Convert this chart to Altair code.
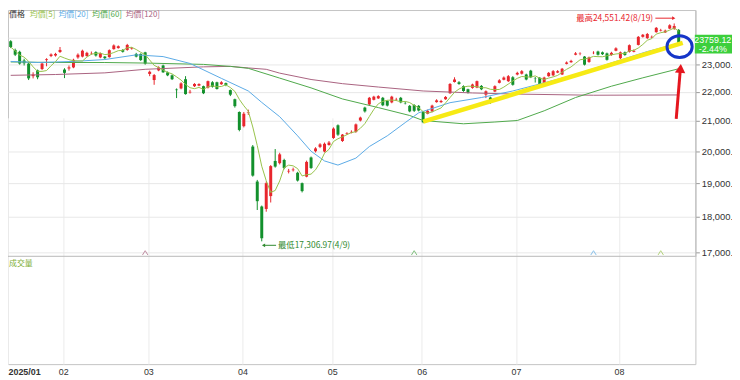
import altair as alt
import pandas as pd

# ---------------- data ----------------
month_labels = ["2025/01", "02", "03", "04", "05", "06", "07", "08"]
month_days = [12, 19, 21, 20, 20, 21, 23, 14]   # visible trading days per month

open_p = [23860, 23530, 23460, 23130, 23020, 22560, 22770, 22820, 23150, 23300, 23320, 23450,
          22800, 22840, 22880, 23250, 23280, 23300, 23400, 23450, 23250, 23280, 23260, 23560, 23600, 23530, 23530, 23580, 23380, 23380, 23440,
          22640, 22420, 22770, 22950, 22700, 22590, 22080, 22120, 22450, 21980, 22200, 22220, 22200, 22150, 22340, 22340, 22270, 22310, 22060, 21740, 21300,
          20820, 21280, 20150, 19050, 18300, 18230, 18610, 19690, 19620, 19720, 19360, 19400, 19320, 19000, 19200, 19800, 20000, 20140, 19990, 20200,
          20430, 20850, 20330, 20570, 20610, 20630, 21010, 21450, 21560, 21720, 21770, 21790, 21680, 21630, 21730, 21790, 21610, 21510, 21540, 21510,
          21300, 21240, 21320, 21640, 21640, 21740, 21950, 22350, 22340, 22200, 22090, 22140, 22150, 22210, 21900, 21800, 22010, 22320, 22430, 22380, 22520,
          22620, 22650, 22620, 22760, 22480, 22500, 22270, 22560, 22590, 22690, 22620, 23010, 23070, 23350, 23380, 23280, 23080, 23410, 23470, 23440, 23400, 23340, 23500,
          23220, 23440, 23460, 23460, 23720, 24030, 23980, 24010, 24210, 24270, 24200, 24350, 24340, 24300]
high_p = [23900, 23580, 23500, 23200, 23060, 22700, 22800, 23060, 23220, 23400, 23420, 23640,
          22850, 22950, 23200, 23400, 23540, 23460, 23470, 23480, 23430, 23300, 23550, 23740, 23700, 23560, 23760, 23640, 23420, 23400, 23460,
          22760, 22640, 22920, 22980, 22730, 22620, 22120, 22340, 22560, 22070, 22310, 22300, 22220, 22400, 22380, 22360, 22380, 22330, 22080, 21760, 21320,
          21300, 21380, 20200, 19100, 18330, 19050, 19560, 20070, 19950, 19760, 19440, 19480, 19350, 19020, 19700, 19830, 20130, 20260, 20280, 20330,
          20780, 20880, 20560, 20620, 20680, 20910, 21140, 21480, 21820, 21860, 21880, 21820, 21700, 21860, 21790, 21820, 21660, 21540, 21570, 21540,
          21330, 21380, 21550, 21740, 21720, 21850, 22310, 22520, 22380, 22230, 22110, 22290, 22400, 22240, 22050, 21830, 22230, 22450, 22550, 22600, 22560,
          22720, 22780, 22650, 22790, 22530, 22530, 22540, 22710, 22780, 22780, 22860, 23100, 23160, 23450, 23440, 23300, 23280, 23480, 23500, 23470, 23430, 23460, 23630,
          23470, 23470, 23740, 23550, 24060, 24140, 24180, 24080, 24410, 24340, 24310, 24520, 24551.42, 24330]
low_p = [23600, 23300, 22980, 22950, 22420, 22480, 22450, 22780, 22920, 23260, 23280, 23420,
         22490, 22760, 22850, 23200, 23250, 23280, 23350, 23280, 23220, 23180, 23240, 23540, 23580, 23430, 23500, 23540, 23250, 23120, 22980,
         22560, 22250, 22740, 22680, 22560, 22420, 21780, 22090, 21900, 21940, 22170, 22200, 21920, 22120, 22150, 22080, 22250, 22200, 21850, 21450, 20650,
         20780, 21200, 19200, 18200, 17306.97, 18150, 18420, 19480, 19580, 19430, 19300, 19360, 19050, 18720, 19180, 19440, 19960, 20100, 19960, 20180,
         20400, 20500, 20300, 20530, 20580, 20600, 20980, 21280, 21530, 21700, 21750, 21500, 21490, 21600, 21680, 21600, 21560, 21290, 21300, 21320,
         20920, 21220, 21290, 21620, 21610, 21720, 21930, 22330, 22250, 22000, 21940, 22110, 22130, 22060, 21780, 21580, 21990, 22300, 22410, 22350, 22220,
         22590, 22620, 22410, 22490, 22330, 22240, 22240, 22540, 22560, 22670, 22600, 22990, 23050, 23330, 23330, 22950, 23050, 23370, 23320, 23340, 23130, 23310, 23480,
         23190, 23310, 23430, 23440, 23700, 24000, 23950, 23980, 24190, 24240, 24180, 24330, 24300, 23700]
close_p = [23640, 23350, 23020, 23030, 22480, 22620, 22520, 23020, 23180, 23360, 23380, 23530,
           22680, 22880, 23160, 23350, 23500, 23420, 23410, 23320, 23400, 23220, 23520, 23700, 23670, 23460, 23720, 23600, 23280, 23150, 23020,
           22720, 22600, 22880, 22700, 22590, 22450, 22060, 22300, 21920, 22000, 22280, 22280, 21950, 22380, 22180, 22100, 22340, 22240, 21900, 21500, 20695,
           21240, 21298, 19232, 18459, 17392, 19000, 19528, 19513, 19900, 19470, 19380, 19420, 19080, 18760, 19660, 19470, 20090, 20220, 20240, 20280,
           20740, 20540, 20540, 20590, 20630, 20880, 21110, 21320, 21790, 21830, 21850, 21530, 21520, 21830, 21740, 21630, 21600, 21320, 21340, 21350,
           20950, 21340, 21520, 21700, 21680, 21820, 22280, 22440, 22280, 22030, 21970, 22260, 22380, 22090, 22020, 21700, 22200, 22410, 22510, 22560, 22250,
           22680, 22740, 22440, 22520, 22470, 22270, 22510, 22680, 22740, 22740, 22830, 23060, 23120, 23400, 23390, 22980, 23250, 23420, 23350, 23370, 23160, 23420, 23590,
           23440, 23340, 23710, 23500, 24030, 24110, 24140, 24030, 24380, 24290, 24270, 24480, 24450, 23759.12]

ma20_idx = [0, 6, 14, 21, 28, 34, 40, 47, 53, 56, 60, 64, 67, 70, 73, 77, 80, 84, 88, 91, 98, 105, 112, 119, 126, 135, 142, 149]
ma20_val = [23100, 23060, 23100, 23170, 23345, 23280, 23025, 22480, 22030, 21630, 21140, 20500, 20000, 19690, 19560, 19780,
            20150, 20500, 20940, 21270, 21620, 21800, 22030, 22320, 22620, 23100, 23470, 23780]
ma60_idx = [0, 10, 21, 30, 43, 49, 53, 60, 67, 74, 82, 89, 92, 101, 108, 113, 119, 126, 134, 141, 149]
ma60_val = [23080, 23060, 23060, 23040, 22990, 22917, 22845, 22490, 22140, 21750, 21450, 21180, 21010, 20900, 20960, 21010,
            21340, 21800, 22200, 22500, 22830]
ma120_idx = [0, 10, 21, 30, 43, 49, 53, 57, 60, 67, 74, 82, 92, 103, 113, 130, 149]
ma120_val = [22590, 22620, 22680, 22810, 22900, 22917, 22860, 22810, 22670, 22440, 22290, 22170, 22030, 21960, 21920, 21880, 21890]

high_text = "最高24,551.42(8/19)"
low_text = "最低17,306.97(4/9)"
last_text = "23759.12"
chg_text = "-2.44%"
y_ticks = [17000, 18000, 19000, 20000, 21000, 22000, 23000, 24000]

# hand-drawn annotations (data coordinates)
yellow_i = [92, 149.9]
yellow_p = [20970, 23800]
arrow_i = [148.45, 149.33]
arrow_p = [21067, 22736]

# ---------------- helpers ----------------
n = len(close_p)
df = pd.DataFrame({"i": list(range(n)), "open": open_p, "high": high_p, "low": low_p, "close": close_p})

starts = [0]
for d in month_days[:-1]:
    starts.append(starts[-1] + d)
x_min, x_max = -0.6, 152.73
tick_vals = [x_min] + [s - 0.3 for s in starts[1:]]
expr = "'" + month_labels[-1] + "'"
for v, lab in reversed(list(zip(tick_vals[:-1], month_labels[:-1]))):
    expr = f"datum.value < {v + 0.5} ? '{lab}' : ({expr})"

xs = alt.Scale(domain=[x_min, x_max], nice=False, zero=False, padding=0)
ys = alt.Scale(type="log", domain=[16896, 25086], range=[249, 0], nice=False, padding=0)

RED, GREEN = "#e8262d", "#12902c"
C5, C20, C60, C120 = "#97c24a", "#5aaae6", "#4ea84a", "#a9627f"
FONT = "Noto Sans CJK TC"

xaxis = alt.Axis(values=tick_vals, labelExpr=expr, grid=True, gridColor="#ebebeb", ticks=False, domain=False,
                 labelFontSize=9, labelColor="#333", labelPadding=3, labelFlush=False, labelOverlap=False,
                 labelAlign={"condition": {"test": "datum.value < 0", "value": "left"}, "value": "center"},
                 labelFontWeight={"condition": {"test": "datum.value < 0", "value": "bold"}, "value": "normal"},
                 title=None)
yaxis = alt.Axis(orient="right", values=y_ticks, format=",.2f", grid=True, gridColor="#e8e8e8", tickSize=4,
                 tickColor="#999", domainColor="#bbb", labelFontSize=9.5, labelColor="#333", labelPadding=2,
                 labelOverlap=False, title=None)

col = alt.condition("datum.close >= datum.open", alt.value(RED), alt.value(GREEN))

wicks = alt.Chart(df).mark_rule(strokeWidth=1).encode(
    x=alt.X("i:Q", scale=xs, axis=xaxis),
    y=alt.Y("low:Q", scale=ys, axis=yaxis),
    y2="high:Q", color=col)
bodies = alt.Chart(df).mark_bar(size=3).encode(
    x=alt.X("i:Q", scale=xs), y=alt.Y("open:Q", scale=ys), y2="close:Q", color=col)

ma5 = alt.Chart(df).transform_window(ma5="mean(close)", frame=[-4, 0], sort=[{"field": "i"}]).mark_line(
    color=C5, strokeWidth=1).encode(x=alt.X("i:Q", scale=xs), y=alt.Y("ma5:Q", scale=ys))

def ma_line(idx, val, color):
    d = pd.DataFrame({"i": idx, "v": val})
    return alt.Chart(d).mark_line(color=color, strokeWidth=1).encode(
        x=alt.X("i:Q", scale=xs), y=alt.Y("v:Q", scale=ys))

l20 = ma_line(ma20_idx, ma20_val, C20)
l60 = ma_line(ma60_idx, ma60_val, C60)
l120 = ma_line(ma120_idx, ma120_val, C120)

sep = alt.Chart(pd.DataFrame({"p": [16896]})).mark_rule(color="#b8b8b8", strokeWidth=1).encode(
    y=alt.Y("p:Q", scale=ys))

# deduction markers (^) at last index - (n-1)
ded = pd.DataFrame({"i": [n - 5, n - 20, n - 60, n - 120], "c": [C5, C20, C60, C120], "p": [16990] * 4})
markers = alt.Chart(ded).mark_point(shape="M -1 0.8 L 0 -0.8 L 1 0.8", filled=False, size=30, strokeWidth=1).encode(
    x=alt.X("i:Q", scale=xs), y=alt.Y("p:Q", scale=ys), color=alt.Color("c:N", scale=None))

# annotations
yel = alt.Chart(pd.DataFrame({"i": yellow_i, "p": yellow_p})).mark_line(color="#f7ea14", strokeWidth=4.5).encode(
    x=alt.X("i:Q", scale=xs), y=alt.Y("p:Q", scale=ys))
ell = alt.Chart(pd.DataFrame({"i": [149.2], "p": [23655]})).mark_point(
    shape="M -1 0 A 1 0.87 0 1 0 1 0 A 1 0.87 0 1 0 -1 0", size=650, filled=False, color="#1535c8", strokeWidth=3,
    opacity=1).encode(x=alt.X("i:Q", scale=xs), y=alt.Y("p:Q", scale=ys))
arr = alt.Chart(pd.DataFrame({"i": arrow_i, "p": arrow_p})).mark_line(color="#e5161e", strokeWidth=3).encode(
    x=alt.X("i:Q", scale=xs), y=alt.Y("p:Q", scale=ys))
arrhead = alt.Chart(pd.DataFrame({"i": [149.4], "p": [22843]})).mark_point(
    shape="triangle-up", size=110, filled=True, color="#e5161e", opacity=1, angle=5).encode(
    x=alt.X("i:Q", scale=xs), y=alt.Y("p:Q", scale=ys))

hi_txt = alt.Chart(pd.DataFrame({"i": [143.3], "p": [24760], "t": [high_text]})).mark_text(
    align="right", baseline="middle", fontSize=8.5, font=FONT, color="#e8262d").encode(
    x=alt.X("i:Q", scale=xs), y=alt.Y("p:Q", scale=ys), text="t:N")
hi_arr = alt.Chart(pd.DataFrame({"i": [143.8, 147.9], "p": [24760, 24760]})).mark_line(
    color="#e8262d", strokeWidth=1).encode(x=alt.X("i:Q", scale=xs), y=alt.Y("p:Q", scale=ys))
hi_head = alt.Chart(pd.DataFrame({"i": [147.9], "p": [24760]})).mark_point(
    shape="triangle-right", size=14, filled=True, color="#e8262d", opacity=1).encode(
    x=alt.X("i:Q", scale=xs), y=alt.Y("p:Q", scale=ys))

lo_txt = alt.Chart(pd.DataFrame({"i": [59.6], "p": [17197], "t": [low_text]})).mark_text(
    align="left", baseline="middle", fontSize=8.5, font=FONT, color="#2f8a2f").encode(
    x=alt.X("i:Q", scale=xs), y=alt.Y("p:Q", scale=ys), text="t:N")
lo_arr = alt.Chart(pd.DataFrame({"i": [56.4, 59.2], "p": [17197, 17197]})).mark_line(
    color="#2f8a2f", strokeWidth=1).encode(x=alt.X("i:Q", scale=xs), y=alt.Y("p:Q", scale=ys))
lo_head = alt.Chart(pd.DataFrame({"i": [56.4], "p": [17197]})).mark_point(
    shape="triangle-left", size=14, filled=True, color="#2f8a2f", opacity=1).encode(
    x=alt.X("i:Q", scale=xs), y=alt.Y("p:Q", scale=ys))

# last price box at right
box = alt.Chart(pd.DataFrame({"i": [152.6], "i2": [161], "p": [24110], "p2": [23394]})).mark_rect(
    color="#3ccf3c").encode(x=alt.X("i:Q", scale=xs), x2="i2:Q", y=alt.Y("p:Q", scale=ys), y2="p2:Q")
box_t = alt.Chart(pd.DataFrame({"i": [156.6, 156.6], "p": [23890, 23575], "t": [last_text, chg_text]})).mark_text(
    align="center", baseline="middle", fontSize=9, font="Liberation Sans", color="white").encode(
    x=alt.X("i:Q", scale=xs), y=alt.Y("p:Q", scale=ys), text="t:N")

def label(txt, px, py, color, size=8):
    return alt.Chart(pd.DataFrame({"t": [txt]})).mark_text(
        align="left", baseline="middle", fontSize=size, font=FONT, color=color).encode(
        x=alt.value(px), y=alt.value(py), text="t:N")

legend = [label("價格", 1, 5, "#333333"), label("均價[5]", 22, 5, C5), label("均價[20]", 51, 5, C20),
          label("均價[60]", 85, 5, C60), label("均價[120]", 119, 5, C120), label("成交量", 1, 257, "#7fb03a")]

chart = alt.layer(wicks, bodies, l120, l60, l20, ma5, sep, markers, yel, ell, arr, arrhead,
                  hi_txt, hi_arr, hi_head, lo_txt, lo_arr, lo_head, box, box_t, *legend).properties(
    width=695, height=358,
    autosize=alt.AutoSizeParams(type="none"),
    padding={"left": 0, "top": 0, "right": 37, "bottom": 14},
).configure_view(stroke="#c4c4c4").configure_axis(labelFont="Liberation Sans")

chart.save("out.html", embed_options={"renderer": "svg", "actions": False})
